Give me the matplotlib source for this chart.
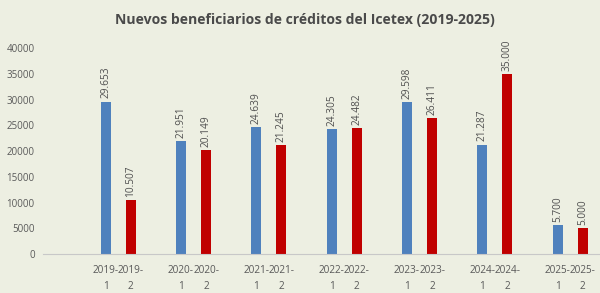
import matplotlib
matplotlib.use("Agg")
import matplotlib.pyplot as plt
import numpy as np

title = "Nuevos beneficiarios de créditos del Icetex (2019-2025)"
years = ["2019", "2020", "2021", "2022", "2023", "2024", "2025"]
sem1 = [29653, 21951, 24639, 24305, 29598, 21287, 5700]
sem2 = [10507, 20149, 21245, 24482, 26411, 35000, 5000]
yticks = [0, 5000, 10000, 15000, 20000, 25000, 30000, 35000, 40000]

BG = "#EDEFE2"
BLUE = "#4F81BD"
RED = "#C00000"
TXT = "#595959"
FONT = "Open Sans"

fig = plt.figure(figsize=(6.0, 2.93), dpi=100, facecolor=BG)
ax = fig.add_axes([43/600, (293-254)/293, 557/600, (254-48.3)/293])
ax.set_facecolor(BG)

g = np.arange(len(years))
xb = 2 + 3 * g
xr = 3 + 3 * g
w = 0.4
ax.bar(xb, sem1, width=w, color=BLUE)
ax.bar(xr, sem2, width=w, color=RED)

def fmt(v):
    return f"{v:,}".replace(",", ".")

for x, v in list(zip(xb, sem1)) + list(zip(xr, sem2)):
    ax.text(x, v + 600, fmt(v), rotation=90, ha="center", va="bottom",
            fontsize=7.3, color="#505050", family=FONT, clip_on=False)

ax.set_xlim(-0.5, 21.69)
ax.set_ylim(0, 40000)
ax.set_yticks(yticks)
ax.set_yticklabels([str(t) for t in yticks], fontsize=7, color=TXT, family=FONT)
ax.tick_params(axis="y", length=0, pad=6)

xt = np.concatenate([xb, xr])
xl = [f"{y}-\n1" for y in years] + [f"{y}-\n2" for y in years]
ax.set_xticks(xt)
ax.set_xticklabels(xl, fontsize=7.2, color=TXT, family=FONT, linespacing=1.65)
ax.tick_params(axis="x", length=0, pad=8)

for s in ["top", "right", "left"]:
    ax.spines[s].set_visible(False)
ax.spines["bottom"].set_color("#C8C8C8")
ax.spines["bottom"].set_linewidth(0.8)

fig.text(305/600, 1 - 20/293, title, ha="center", va="center",
         fontsize=10.1, fontweight="bold", color="#4A4A4A",
         family=["Liberation Sans Narrow", "Open Sans"])

fig.savefig("out.png", dpi=100, facecolor=BG)
